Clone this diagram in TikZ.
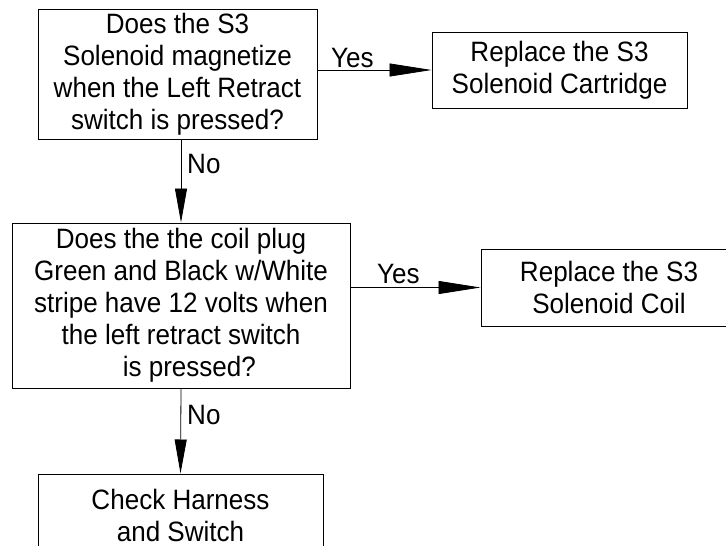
\documentclass[tikz,border=0pt]{standalone}
\usepackage{fontspec}
\setmainfont{Liberation Sans}[FakeStretch=0.93]
\usetikzlibrary{arrows.meta}
\begin{document}
\begin{tikzpicture}[x=1pt,y=-1pt,
  box/.style={draw=black, line width=1pt, rectangle, inner sep=0pt, align=center,
    font=\fontsize{28}{32}\selectfont},
  lbl/.style={inner sep=0pt, font=\fontsize{28}{32}\selectfont},
  hflow/.style={draw=black, line width=0.8pt, -{Triangle[length=42pt,width=13pt]}},
  vflow/.style={draw=black, line width=0.8pt, -{Triangle[length=34pt,width=12pt]}}]
  \useasboundingbox (0,0) rectangle (726,546);
  \clip (0,0) rectangle (726,546);

  % decision boxes and actions
  \node[box, minimum width=279pt, minimum height=130pt] (q1) at (177.5,74)
    {Does the S3\\Solenoid magnetize\\when the Left Retract\\switch is pressed?};
  \node[box, minimum width=255pt, minimum height=76pt] (r1) at (559.5,70)
    {Replace the S3\\Solenoid Cartridge};
  \node[box, minimum width=338pt, minimum height=165pt] (q2) at (181,305.5)
    {Does the the coil plug\\Green and Black w/White\\stripe have 12 volts when\\the left retract switch\\\hspace*{0.6em}is pressed?};
  \node[box, minimum width=256pt, minimum height=77pt] (r2) at (609,287.5)
    {Replace the S3\\Solenoid Coil};
  \node[box, minimum width=285pt, minimum height=82pt] (c1) at (180.5,515)
    {Check Harness\\and Switch};

  % connectors
  \draw[hflow] (q1.east |- r1.west) -- (r1.west);
  \draw[hflow] (q2.east |- r2.west) -- (r2.west);
  \draw[vflow] (q1.south -| q2.north) -- (q2.north);
  \draw[vflow] (q2.south) -- (c1.north);

  % branch labels
  \node[lbl, anchor=base west] (y1) at (331,67) {Yes};
  \node[lbl, anchor=base west] (y2) at (377,283) {Yes};
  \node[lbl, anchor=base west] (n1) at (187,173) {No};
  \node[lbl, anchor=base west] (n2) at (187,424) {No};
\end{tikzpicture}
\end{document}
